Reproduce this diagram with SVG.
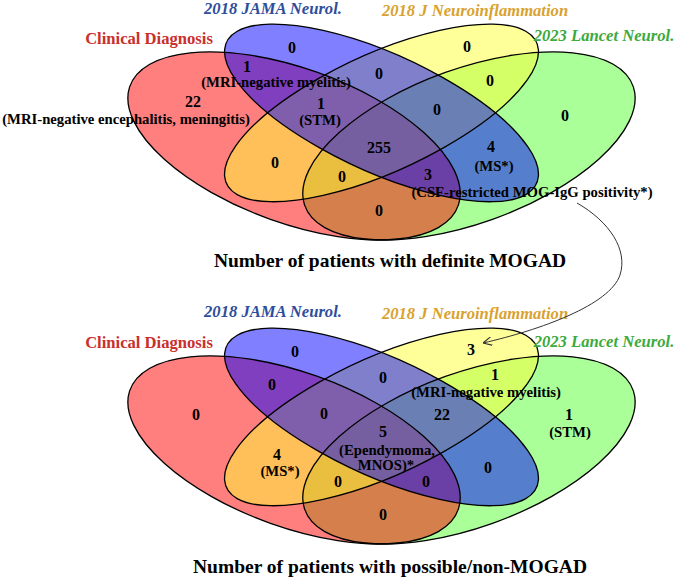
<svg xmlns="http://www.w3.org/2000/svg" xmlns:xlink="http://www.w3.org/1999/xlink" width="685" height="580" viewBox="0 0 685 580">
<style>
text{font-family:"Liberation Serif","Times New Roman",serif;font-weight:bold;text-anchor:middle;fill:#000}
.n{font-size:16px}
.l{font-size:14.7px}
.t{font-size:19.5px}
.cat{font-size:16.6px;font-style:italic}
.cR{fill:#C9302C;font-style:normal}
.cB{fill:#2E4D9C}
.cY{fill:#D9A22E}
.cG{fill:#3CAA3C}
.fR{fill:#FF0000;fill-opacity:0.5}
.fB{fill:#0000FF;fill-opacity:0.5}
.fY{fill:#FFFF33;fill-opacity:0.5}
.fG{fill:#55FF33;fill-opacity:0.5}
.ol{fill:none;stroke:#000;stroke-width:1.3}
.conn{fill:none;stroke:#333;stroke-width:1}
</style>
<defs>
<ellipse id="eR" cx="0.35" cy="0.47" rx="0.35" ry="0.2" transform="rotate(-45 0.35 0.47)" vector-effect="non-scaling-stroke"/>
<ellipse id="eB" cx="0.5" cy="0.57" rx="0.35" ry="0.15" transform="rotate(-45 0.5 0.57)" vector-effect="non-scaling-stroke"/>
<ellipse id="eY" cx="0.5" cy="0.57" rx="0.35" ry="0.15" transform="rotate(45 0.5 0.57)" vector-effect="non-scaling-stroke"/>
<ellipse id="eG" cx="0.65" cy="0.47" rx="0.35" ry="0.2" transform="rotate(45 0.65 0.47)" vector-effect="non-scaling-stroke"/>
<marker id="arr" viewBox="0 0 10 10" refX="10" refY="5" markerWidth="9" markerHeight="9" markerUnits="userSpaceOnUse" orient="auto">
<path d="M0,0 L10,5 L0,10" fill="none" stroke="#333" stroke-width="1.2"/>
</marker>
</defs>

<!-- TOP DIAGRAM -->
<g id="top-venn">
<g id="top-lancet"><use xlink:href="#eG" class="fG" transform="translate(90,301) scale(583,-330)"/></g>
<g id="top-clinical"><use xlink:href="#eR" class="fR" transform="translate(90,301) scale(583,-330)"/></g>
<g id="top-jneuroinfl"><use xlink:href="#eY" class="fY" transform="translate(90,301) scale(583,-330)"/></g>
<g id="top-jama"><use xlink:href="#eB" class="fB" transform="translate(90,301) scale(583,-330)"/></g>
<g id="top-outlines" transform="translate(90,301) scale(583,-330)">
<use xlink:href="#eG" class="ol"/><use xlink:href="#eR" class="ol"/><use xlink:href="#eY" class="ol"/><use xlink:href="#eB" class="ol"/>
</g>
<g id="top-labels">
<text class="cat cR" x="149" y="44">Clinical Diagnosis</text>
<text class="cat cB" x="273" y="14">2018 JAMA Neurol.</text>
<text class="cat cY" x="475" y="16">2018 J Neuroinflammation</text>
<text class="cat cG" x="604" y="41">2023 Lancet Neurol.</text>
</g>
<g id="top-counts">
<text class="n" x="292" y="53">0</text>
<text class="n" x="247" y="72">1</text>
<text class="l" x="276" y="87">(MRI-negative myelitis)</text>
<text class="n" x="193" y="107">22</text>
<text class="l" x="126" y="124">(MRI-negative encephalitis, meningitis)</text>
<text class="n" x="321" y="109">1</text>
<text class="l" x="320" y="125">(STM)</text>
<text class="n" x="379" y="79">0</text>
<text class="n" x="467" y="52">0</text>
<text class="n" x="490" y="86">0</text>
<text class="n" x="565" y="121">0</text>
<text class="n" x="437" y="115">0</text>
<text class="n" x="379" y="153">255</text>
<text class="n" x="491" y="152">4</text>
<text class="l" x="494" y="171">(MS*)</text>
<text class="n" x="428" y="180">3</text>
<text class="l" x="532" y="197">(CSF-restricted MOG-IgG positivity*)</text>
<text class="n" x="275" y="168">0</text>
<text class="n" x="342" y="182">0</text>
<text class="n" x="379" y="216">0</text>
</g>
<text class="t" x="390" y="267">Number of patients with definite MOGAD</text>
</g>

<!-- BOTTOM DIAGRAM -->
<g id="bottom-venn">
<g id="bot-lancet"><use xlink:href="#eG" class="fG" transform="translate(90,605) scale(583,-330)"/></g>
<g id="bot-clinical"><use xlink:href="#eR" class="fR" transform="translate(90,605) scale(583,-330)"/></g>
<g id="bot-jneuroinfl"><use xlink:href="#eY" class="fY" transform="translate(90,605) scale(583,-330)"/></g>
<g id="bot-jama"><use xlink:href="#eB" class="fB" transform="translate(90,605) scale(583,-330)"/></g>
<g id="bot-outlines" transform="translate(90,605) scale(583,-330)">
<use xlink:href="#eG" class="ol"/><use xlink:href="#eR" class="ol"/><use xlink:href="#eY" class="ol"/><use xlink:href="#eB" class="ol"/>
</g>
<g id="bot-labels">
<text class="cat cR" x="149" y="348">Clinical Diagnosis</text>
<text class="cat cB" x="273" y="317">2018 JAMA Neurol.</text>
<text class="cat cY" x="475" y="319">2018 J Neuroinflammation</text>
<text class="cat cG" x="604" y="347">2023 Lancet Neurol.</text>
</g>
<g id="bot-counts">
<text class="n" x="295" y="357">0</text>
<text class="n" x="272" y="390">0</text>
<text class="n" x="196" y="420">0</text>
<text class="n" x="324" y="419">0</text>
<text class="n" x="471" y="355">3</text>
<text class="n" x="383" y="383">0</text>
<text class="n" x="495" y="380">1</text>
<text class="l" x="486" y="397">(MRI-negative myelitis)</text>
<text class="n" x="442" y="420">22</text>
<text class="n" x="569" y="420">1</text>
<text class="l" x="570" y="437">(STM)</text>
<text class="n" x="383" y="437">5</text>
<text class="l" x="387" y="455">(Ependymoma,</text>
<text class="l" x="386" y="470">MNOS)*</text>
<text class="n" x="277" y="460">4</text>
<text class="l" x="280" y="476">(MS*)</text>
<text class="n" x="338" y="487">0</text>
<text class="n" x="426" y="487">0</text>
<text class="n" x="488" y="473">0</text>
<text class="n" x="383" y="520">0</text>
</g>
<text class="t" x="390" y="573">Number of patients with possible/non-MOGAD</text>
</g>

<g id="connectors">
<path class="conn" d="M577,203 C610,222 628,250 620,275 C610,305 540,330 483,343" marker-end="url(#arr)"/>
</g>
</svg>
